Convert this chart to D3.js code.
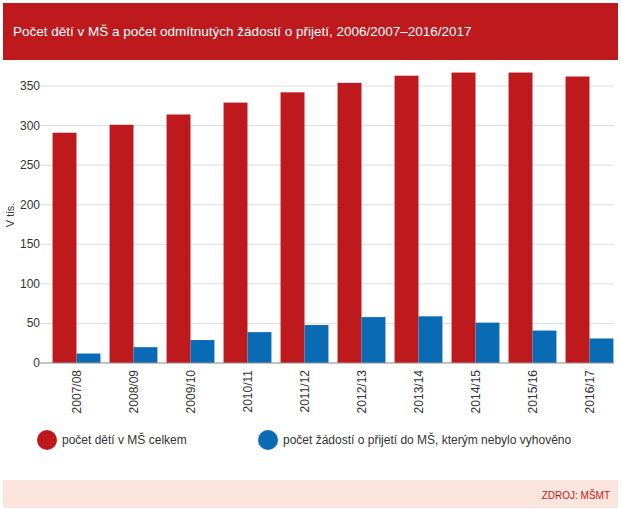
<!DOCTYPE html>
<html lang="cs">
<head>
  <meta charset="utf-8">
  <script src="https://cdn.jsdelivr.net/npm/d3@7"></script>
  <style>
    body { margin: 0; background: white; font-family: Arial, "Liberation Sans", sans-serif; }
  </style>
</head>
<body>
  <script>
    var width = 621, height = 509;
    var data = [
      {year: "2007/08", total: 291, refused: 12},
      {year: "2008/09", total: 301, refused: 20},
      {year: "2009/10", total: 314, refused: 29},
      {year: "2010/11", total: 329, refused: 39},
      {year: "2011/12", total: 342, refused: 48},
      {year: "2012/13", total: 354, refused: 58},
      {year: "2013/14", total: 363, refused: 59},
      {year: "2014/15", total: 367, refused: 51},
      {year: "2015/16", total: 367, refused: 41},
      {year: "2016/17", total: 362, refused: 31}
    ];
    var red = "#be1a1e", blue = "#0a6bb5";

    var svg = d3.select("body").append("svg").attr("width", width).attr("height", height);

    // Title bar
    svg.append("rect").attr("x", 3).attr("y", 3).attr("width", 615).attr("height", 57).attr("fill", red);
    svg.append("text").attr("x", 13).attr("y", 36).attr("fill", "white").attr("font-size", 13.5)
      .text("Počet dětí v MŠ a počet odmítnutých žádostí o přijetí, 2006/2007–2016/2017");

    var x = d3.scaleBand().domain(data.map(function(d) { return d.year; })).range([48, 618]).paddingInner(0.16).paddingOuter(0.08);
    var y = d3.scaleLinear().domain([0, 350]).range([363, 86]);

    // Grid
    svg.append("g").selectAll("line").data(y.ticks(7)).enter().append("line")
      .attr("x1", 40).attr("x2", 614)
      .attr("y1", function(d) { return y(d); }).attr("y2", function(d) { return y(d); })
      .attr("stroke", "#ddd");

    svg.append("g").selectAll("text").data(y.ticks(7)).enter().append("text")
      .attr("x", 40).attr("y", function(d) { return y(d) + 4; })
      .attr("text-anchor", "end").attr("font-size", 12).attr("fill", "#333")
      .text(function(d) { return d; });

    svg.append("text").attr("transform", "translate(14,215) rotate(-90)")
      .attr("text-anchor", "middle").attr("font-size", 11).attr("fill", "#333").text("V tis.");

    var bw = x.bandwidth() / 2;
    var g = svg.append("g").selectAll("g").data(data).enter().append("g");
    g.append("rect").attr("x", function(d) { return x(d.year); }).attr("width", bw)
      .attr("y", function(d) { return y(d.total); }).attr("height", function(d) { return y(0) - y(d.total); })
      .attr("fill", red);
    g.append("rect").attr("x", function(d) { return x(d.year) + bw; }).attr("width", bw)
      .attr("y", function(d) { return y(d.refused); }).attr("height", function(d) { return y(0) - y(d.refused); })
      .attr("fill", blue);
    g.append("text")
      .attr("transform", function(d) { return "translate(" + (x(d.year) + bw + 4) + ",370) rotate(-90)"; })
      .attr("text-anchor", "end").attr("font-size", 12).attr("fill", "#333")
      .text(function(d) { return d.year; });

    svg.append("line").attr("x1", 40).attr("x2", 614).attr("y1", y(0)).attr("y2", y(0)).attr("stroke", "#999");

    // Legend
    var legend = [
      {x: 47, color: red, label: "počet dětí v MŠ celkem"},
      {x: 268, color: blue, label: "počet žádostí o přijetí do MŠ, kterým nebylo vyhověno"}
    ];
    var lg = svg.append("g").selectAll("g").data(legend).enter().append("g");
    lg.append("circle").attr("cx", function(d) { return d.x; }).attr("cy", 440).attr("r", 10).attr("fill", function(d) { return d.color; });
    lg.append("text").attr("x", function(d) { return d.x + 15; }).attr("y", 444).attr("font-size", 12).attr("fill", "#333")
      .text(function(d) { return d.label; });

    // Footer
    svg.append("rect").attr("x", 3).attr("y", 480).attr("width", 615).attr("height", 28).attr("fill", "#fbe5dc");
    svg.append("text").attr("x", 610).attr("y", 499).attr("text-anchor", "end").attr("font-size", 10).attr("fill", red).text("ZDROJ: MŠMT");
  </script>
</body>
</html>
